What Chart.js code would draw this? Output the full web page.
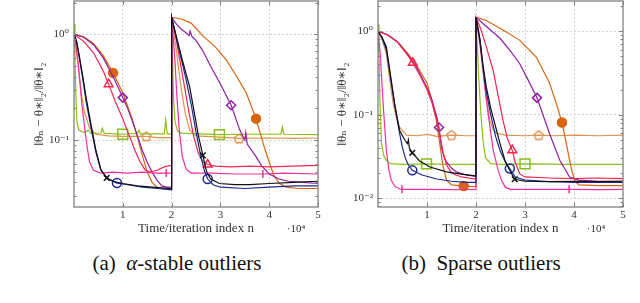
<!DOCTYPE html>
<html>
<head>
<meta charset="utf-8">
<script src="https://cdn.jsdelivr.net/npm/chart.js@4"></script>
<style>
  body { margin: 0; width: 640px; height: 303px; background: #fff; position: relative; overflow: hidden; font-family: "Liberation Serif", "Times New Roman", "DejaVu Serif", serif; }
  canvas { position: absolute; top: 0; }
  #chartA { left: 0; }
  #chartB { left: 322px; }
  .caption { position: absolute; top: 251px; font-size: 21px; line-height: 24px; text-align: center; color: #111; white-space: nowrap; }
</style>
</head>
<body>
<canvas id="chartA" width="322" height="240"></canvas>
<canvas id="chartB" width="318" height="240"></canvas>
<div class="caption" style="left:77px;width:200px">(a)&nbsp; <i>α</i>-stable outliers</div>
<div class="caption" style="left:381px;width:200px">(b)&nbsp; Sparse outliers</div>
<script>
// x in units of 10^4 iterations, y = relative error
const xTicks = [1, 2, 3, 4, 5];
const aDecades = [1, 0.1];
const bDecades = [1, 0.1, 0.01];

// (a) alpha-stable outliers
const aOrange = [[0,1.0],[0.2,0.95],[0.4,0.82],[0.6,0.63],[0.8,0.433],[1.0,0.28],[1.1,0.21],[1.2,0.155],[1.3,0.107],[1.4,0.072],[1.5,0.05],[1.6,0.04],[1.7,0.036],[1.85,0.035],[2,0.034],
  [2,1.45],[2.2,1.4],[2.4,1.28],[2.64,0.97],[2.9,0.76],[3.12,0.575],[3.35,0.39],[3.53,0.28],[3.65,0.2],[3.73,0.16],[3.82,0.115],[3.9,0.086],[4.0,0.062],[4.1,0.046],[4.21,0.039],[4.35,0.036],[4.6,0.035],[5,0.035]];
const aPurple = [[0,1.0],[0.2,0.94],[0.4,0.8],[0.6,0.6],[0.8,0.4],[1.0,0.253],[1.1,0.2],[1.2,0.15],[1.3,0.11],[1.4,0.08],[1.5,0.062],[1.6,0.05],[1.7,0.042],[1.8,0.037],[1.9,0.036],[2,0.036],
  [2,1.45],[2.1,1.25],[2.2,1.12],[2.3,1.03],[2.36,0.98],[2.38,1.08],[2.42,0.95],[2.5,0.88],[2.64,0.7],[2.8,0.5],[3.0,0.34],[3.22,0.214],[3.4,0.124],[3.5,0.1],[3.52,0.118],[3.55,0.092],[3.73,0.07],[3.85,0.057],[4.0,0.048],[4.2,0.043],[4.4,0.041],[4.7,0.04],[5,0.039]];
const aRed = [[0,1.0],[0.2,0.86],[0.4,0.67],[0.6,0.45],[0.71,0.339],[0.85,0.23],[1.0,0.16],[1.1,0.12],[1.17,0.1],[1.25,0.08],[1.35,0.063],[1.45,0.053],[1.55,0.05],[1.7,0.052],[1.85,0.056],[2,0.058],
  [2,1.45],[2.08,1.0],[2.16,0.6],[2.25,0.35],[2.35,0.19],[2.45,0.11],[2.55,0.075],[2.65,0.062],[2.74,0.059],[2.9,0.057],[3.2,0.056],[3.6,0.057],[4.0,0.056],[4.5,0.057],[5,0.058]];
const aPink = [[0,1.0],[0.04,0.8],[0.08,0.57],[0.12,0.36],[0.16,0.22],[0.22,0.13],[0.27,0.085],[0.32,0.062],[0.4,0.052],[0.55,0.049],[0.8,0.05],[1.1,0.049],[1.4,0.05],[1.7,0.049],[1.89,0.049],[2,0.049],
  [2,1.45],[2.03,1.0],[2.07,0.55],[2.11,0.25],[2.16,0.12],[2.22,0.07],[2.3,0.053],[2.4,0.049],[2.8,0.049],[3.3,0.048],[3.87,0.048],[4.3,0.049],[5,0.048]];
const aBlack = [[0,1.0],[0.05,0.88],[0.11,0.62],[0.18,0.4],[0.25,0.25],[0.35,0.14],[0.45,0.08],[0.55,0.053],[0.67,0.044],[0.8,0.041],[1.0,0.039],[1.3,0.037],[1.6,0.036],[2,0.035],
  [2,1.45],[2.1,0.95],[2.2,0.62],[2.3,0.42],[2.37,0.32],[2.45,0.2],[2.55,0.11],[2.64,0.072],[2.72,0.05],[2.8,0.043],[2.98,0.039],[3.3,0.038],[3.6,0.038],[4.0,0.039],[4.5,0.04],[5,0.041]];
const aBlue = [[0,1.0],[0.05,0.86],[0.11,0.6],[0.18,0.38],[0.25,0.23],[0.35,0.13],[0.45,0.077],[0.55,0.052],[0.7,0.043],[0.88,0.0394],[1.1,0.038],[1.4,0.036],[1.7,0.035],[2,0.034],
  [2,1.45],[2.1,0.9],[2.2,0.58],[2.3,0.37],[2.4,0.22],[2.5,0.12],[2.6,0.07],[2.68,0.05],[2.74,0.043],[2.85,0.038],[3.0,0.036],[3.5,0.035],[4.0,0.036],[4.5,0.037],[5,0.037]];
const aTan = [[0,1.0],[0.05,0.7],[0.11,0.4],[0.16,0.26],[0.22,0.18],[0.32,0.13],[0.45,0.114],[0.7,0.11],[1.0,0.109],[1.48,0.109],[1.7,0.106],[2,0.106],
  [2,1.45],[2.05,1.0],[2.1,0.7],[2.15,0.45],[2.2,0.3],[2.28,0.18],[2.37,0.125],[2.5,0.11],[3.0,0.107],[3.38,0.104],[4.0,0.105],[4.5,0.104],[5,0.105]];
const aGreen = [[0,1.25],[0.02,0.6],[0.04,0.25],[0.06,0.15],[0.1,0.125],[0.2,0.118],[0.3,0.124],[0.35,0.116],[0.55,0.117],[0.58,0.13],[0.62,0.116],[1.0,0.114],[1.3,0.116],[1.33,0.125],[1.36,0.115],[1.85,0.115],[1.88,0.155],[1.91,0.115],[2,0.115],
  [2,1.3],[2.02,0.6],[2.04,0.25],[2.07,0.15],[2.12,0.122],[2.2,0.117],[2.98,0.113],[3.5,0.114],[4.24,0.114],[4.27,0.133],[4.3,0.114],[5,0.113]];

// (b) sparse outliers
const bOrange = [[0,1.0],[0.2,0.9],[0.4,0.74],[0.6,0.55],[0.8,0.38],[1.0,0.24],[1.1,0.15],[1.19,0.086],[1.26,0.045],[1.33,0.0237],[1.4,0.0164],[1.5,0.0145],[1.75,0.014],[2,0.0138],
  [2,1.46],[2.2,1.35],[2.49,1.08],[2.89,0.78],[3.23,0.49],[3.5,0.24],[3.65,0.13],[3.755,0.0806],[3.85,0.043],[3.95,0.022],[4.02,0.016],[4.1,0.0145],[4.5,0.0142],[5,0.0142]];
const bPurple = [[0,1.0],[0.2,0.9],[0.4,0.74],[0.6,0.53],[0.8,0.36],[1.0,0.21],[1.1,0.15],[1.2,0.095],[1.245,0.0703],[1.29,0.042],[1.34,0.032],[1.4,0.027],[1.5,0.023],[1.6,0.0207],[1.8,0.019],[2,0.0183],
  [2,1.46],[2.2,1.15],[2.49,0.82],[2.7,0.58],[2.89,0.41],[3.05,0.27],[3.245,0.159],[3.5,0.0596],[3.71,0.0285],[3.91,0.018],[4.1,0.0165],[4.5,0.016],[5,0.016]];
const bRed = [[0,1.0],[0.2,0.9],[0.4,0.74],[0.6,0.52],[0.71,0.417],[0.85,0.3],[1.0,0.2],[1.1,0.14],[1.2,0.085],[1.27,0.055],[1.33,0.035],[1.4,0.025],[1.5,0.02],[1.7,0.018],[2,0.017],
  [2,1.46],[2.1,1.05],[2.2,0.68],[2.35,0.34],[2.45,0.17],[2.55,0.086],[2.64,0.052],[2.74,0.0376],[2.8,0.027],[2.89,0.0197],[3.0,0.018],[3.5,0.0175],[4.0,0.0172],[4.5,0.0175],[5,0.0172]];
const bPink = [[0,1.0],[0.05,0.5],[0.1,0.149],[0.17,0.0376],[0.22,0.022],[0.27,0.0164],[0.35,0.0138],[0.44,0.013],[0.49,0.0128],[1.0,0.0128],[1.5,0.0127],[2,0.0128],
  [2,1.46],[2.1,0.6],[2.21,0.149],[2.35,0.0376],[2.45,0.022],[2.52,0.0164],[2.6,0.0135],[2.7,0.0128],[3.0,0.0128],[3.9,0.0128],[4.5,0.0127],[5,0.0128]];
const bBlack = [[0,1.0],[0.08,0.85],[0.17,0.65],[0.24,0.34],[0.34,0.136],[0.44,0.065],[0.55,0.0495],[0.6,0.045],[0.62,0.05],[0.64,0.04],[0.7,0.035],[0.85,0.028],[1.06,0.0237],[1.4,0.0207],[1.7,0.0195],[2,0.0185],
  [2,1.46],[2.08,0.8],[2.14,0.4],[2.21,0.215],[2.3,0.12],[2.42,0.065],[2.5,0.043],[2.59,0.0285],[2.68,0.022],[2.79,0.0169],[3.0,0.016],[3.5,0.0158],[4.0,0.016],[4.5,0.0158],[5,0.016]];
const bBlue = [[0,1.0],[0.08,0.83],[0.17,0.6],[0.24,0.32],[0.34,0.13],[0.44,0.06],[0.5,0.04],[0.56,0.03],[0.62,0.025],[0.7,0.0216],[0.9,0.019],[1.2,0.017],[1.5,0.016],[1.8,0.0155],[2,0.0155],
  [2,1.46],[2.08,0.78],[2.14,0.38],[2.2,0.2],[2.3,0.1],[2.4,0.055],[2.5,0.036],[2.6,0.027],[2.69,0.0227],[2.8,0.018],[3.0,0.0165],[3.5,0.0158],[4.0,0.0155],[4.5,0.0155],[5,0.0155]];
const bTan = [[0,1.0],[0.08,0.8],[0.17,0.54],[0.24,0.26],[0.31,0.136],[0.38,0.09],[0.44,0.071],[0.58,0.057],[0.8,0.056],[1.0,0.058],[1.2,0.055],[1.5,0.057],[1.8,0.056],[2,0.056],
  [2,1.46],[2.07,0.75],[2.14,0.34],[2.21,0.16],[2.28,0.086],[2.35,0.067],[2.42,0.06],[2.6,0.057],[3.0,0.056],[3.28,0.0569],[3.6,0.056],[4.0,0.057],[4.5,0.056],[5,0.057]];
const bGreen = [[0,1.2],[0.02,0.5],[0.04,0.15],[0.07,0.045],[0.12,0.032],[0.17,0.0285],[0.25,0.026],[0.5,0.0255],[0.99,0.0258],[1.5,0.0255],[2,0.0255],
  [2,1.2],[2.03,0.6],[2.06,0.25],[2.1,0.1],[2.15,0.045],[2.2,0.03],[2.3,0.026],[2.5,0.0255],[3.0,0.0258],[4.0,0.0255],[5,0.0255]];

// marker positions (x values) for each curve
const aMarks = { orange: [0.8, 3.73], purple: [1.0, 3.22], red: [0.71, 2.74], pink: [1.89, 3.87], black: [0.67, 2.64], blue: [0.88, 2.74], tan: [1.48, 3.38], green: [1.0, 2.98] };
const bMarks = { orange: [1.75, 3.755], purple: [1.245, 3.245], red: [0.71, 2.74], pink: [0.49, 3.9], black: [0.7, 2.79], blue: [0.7, 2.69], tan: [1.5, 3.28], green: [0.99, 3.0] };

const colors = { orange: "#d9640f", red: "#f5264f", purple: "#8f1fa3", tan: "#e0914f", green: "#8abf1a", black: "#111111", blue: "#1f2794", pink: "#f0309a" };
const serif = "'Liberation Serif', 'Times New Roman', 'DejaVu Serif', serif";
const font = { family: serif, size: 11 };

function pentagon(color) {
  const c = document.createElement("canvas");
  c.width = 13; c.height = 13;
  const g = c.getContext("2d");
  g.strokeStyle = color;
  g.lineWidth = 1.4;
  g.beginPath();
  for (let i = 0; i < 5; i++) {
    const ang = -Math.PI / 2 + i * 2 * Math.PI / 5;
    const px = 6.5 + 4.8 * Math.cos(ang), py = 6.9 + 4.8 * Math.sin(ang);
    if (i) g.lineTo(px, py); else g.moveTo(px, py);
  }
  g.closePath();
  g.stroke();
  return c;
}

const markerStyle = {
  black: { style: "crossRot", r: 4 },
  blue: { style: "circle", r: 4.5 },
  pink: { style: "line", r: 4, rot: 90 },
  red: { style: "triangle", r: 5 },
  purple: { style: "rectRot", r: 4.5 },
  orange: { style: "circle", r: 4.5, fill: true },
  green: { style: "rect", r: 7 },
  tan: { style: pentagon(colors.tan), r: 5 }
};

function makeSets(series, marks) {
  return Object.keys(series).map(function (key) {
    const m = markerStyle[key];
    return {
      data: series[key],
      borderColor: colors[key],
      borderWidth: 1.2,
      tension: 0,
      pointStyle: m.style,
      pointRotation: m.rot || 0,
      pointBorderColor: colors[key],
      pointBorderWidth: 1.5,
      pointBackgroundColor: m.fill ? colors[key] : "rgba(0,0,0,0)",
      pointRadius: (c) => (c.raw && marks[key].includes(c.raw[0]) ? m.r : 0)
    };
  });
}

const sup = { "-": "⁻", "0": "⁰", "1": "¹", "2": "²", "3": "³", "4": "⁴" };
function decadeLabel(v) {
  const e = Math.round(Math.log10(v));
  return "10" + String(e).split("").map((ch) => sup[ch]).join("");
}

const framePlugin = {
  id: "frame",
  afterDatasetsDraw(chart, args, opts) {
    const { ctx, chartArea: a, scales } = chart;
    const y = scales.y, x = scales.x;
    ctx.save();
    ctx.strokeStyle = "#808080";
    ctx.lineWidth = 1;
    ctx.beginPath();
    for (let k = -3; k <= 1; k++) {
      for (let m = 1; m <= 9; m++) {
        const v = m * Math.pow(10, k);
        if (v <= y.min || v >= y.max) continue;
        const py = Math.round(y.getPixelForValue(v)) + 0.5;
        const len = m === 1 ? 4 : 2.5;
        ctx.moveTo(a.left, py); ctx.lineTo(a.left + len, py);
        ctx.moveTo(a.right, py); ctx.lineTo(a.right - len, py);
      }
    }
    xTicks.forEach(function (t) {
      const px = Math.round(x.getPixelForValue(t)) + 0.5;
      ctx.moveTo(px, a.bottom); ctx.lineTo(px, a.bottom - 4);
      ctx.moveTo(px, a.top); ctx.lineTo(px, a.top + 4);
    });
    ctx.stroke();
    ctx.lineWidth = 1.3;
    ctx.strokeRect(a.left, a.top, a.width, a.height);
    ctx.fillStyle = "#333";
    ctx.font = "11px " + serif;
    ctx.textAlign = "center";
    ctx.textBaseline = "middle";
    ctx.fillText("·10⁴", opts.noteX, opts.noteY);
    ctx.restore();
  }
};

function build(id, series, marks, yMin, yMax, decades, yWidth, padRight, titlePad, noteX) {
  return new Chart(document.getElementById(id), {
    type: "line",
    data: { datasets: makeSets(series, marks) },
    plugins: [framePlugin],
    options: {
      responsive: false,
      animation: false,
      devicePixelRatio: 1,
      events: [],
      layout: { padding: { top: 1, right: padRight, left: 0, bottom: 0 } },
      plugins: { legend: { display: false }, tooltip: { enabled: false }, frame: { noteX: noteX, noteY: 229 } },
      scales: {
        x: {
          type: "linear", min: 0, max: 5,
          afterFit: (s) => { s.height = 33; s.paddingLeft = 0; s.paddingRight = 0; },
          afterBuildTicks: (s) => { s.ticks = xTicks.map((v) => ({ value: v })); },
          ticks: { autoSkip: false, maxRotation: 0, padding: 2, color: "#333", font: font, callback: (v) => String(v) },
          grid: { drawTicks: false, color: (c) => (c.tick && c.tick.value < 5 ? "#d0d0d0" : "rgba(0,0,0,0)") },
          border: { display: false, dash: [2, 2] },
          title: { display: true, text: "Time/iteration index n", color: "#333", padding: { top: 0, bottom: 4 }, font: { family: serif, size: 13 } }
        },
        y: {
          type: "logarithmic", min: yMin, max: yMax,
          afterFit: (s) => { s.width = yWidth; s.paddingTop = 0; s.paddingBottom = 0; },
          afterBuildTicks: (s) => { s.ticks = decades.map((v) => ({ value: v })); },
          ticks: { autoSkip: false, padding: 5, color: "#333", font: font, callback: (v) => decadeLabel(v) },
          grid: { drawTicks: false, color: "#d0d0d0" },
          border: { display: false, dash: [2, 2] },
          title: { display: true, text: "‖θₙ − θ∗‖₂/‖θ∗‖₂", color: "#333", padding: { top: titlePad, bottom: 0 }, font: { family: serif, size: 13 } }
        }
      }
    }
  });
}

build("chartA",
  { black: aBlack, blue: aBlue, pink: aPink, red: aRed, purple: aPurple, orange: aOrange, green: aGreen, tan: aTan },
  aMarks, 0.0234, 2.07, aDecades, 74, 4, 32, 296);
build("chartB",
  { black: bBlack, blue: bBlue, pink: bPink, red: bRed, purple: bPurple, orange: bOrange, green: bGreen, tan: bTan },
  bMarks, 0.00787, 2.29, bDecades, 56, 17, 13, 274);
</script>
</body>
</html>
